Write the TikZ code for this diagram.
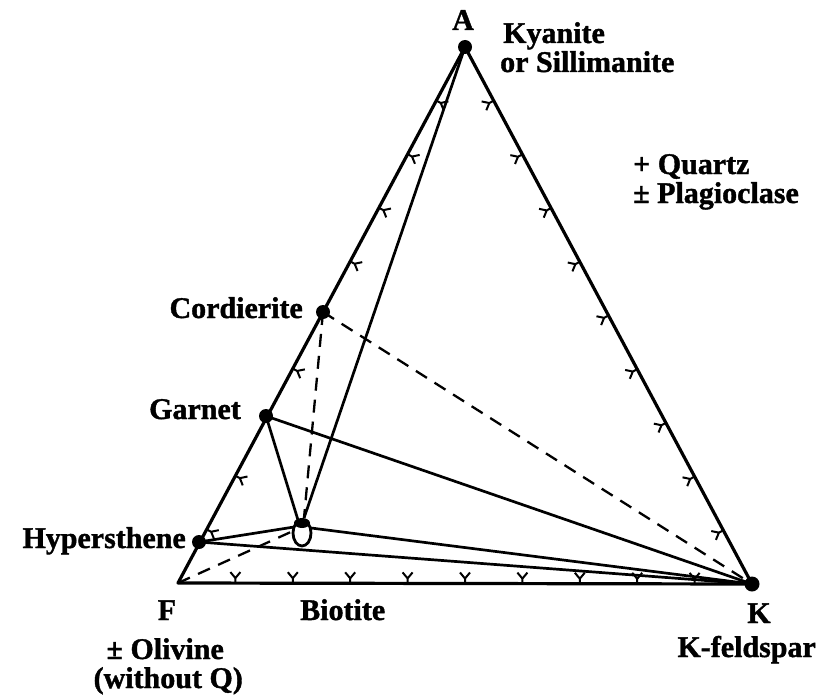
\documentclass[tikz,border=0pt]{standalone}
\usepackage{fontspec}
\setmainfont{Liberation Serif}[FakeBold=1.3]
\usetikzlibrary{calc}
\begin{document}
\begin{tikzpicture}[x=1pt,y=-1pt,
  edge/.style={line width=3.2pt,line join=round},
  tie/.style={line width=2.7pt},
  dtie/.style={line width=2.3pt,dash pattern=on 13pt off 9pt},
  dot/.style={circle,fill=black,inner sep=0pt,minimum size=14pt},
  lab/.style={font=\fontsize{30}{34}\selectfont\bfseries,inner sep=0pt},
  tk/.style={line width=2pt}]
\useasboundingbox (0,0) rectangle (829,698);
% corners and phases
\coordinate (F) at (178,583);
\node[dot] (A) at (465,47) {};
\node[dot,minimum size=15pt] (K) at (752,584) {};
\node[dot] (C) at (323,312) {};
\node[dot] (G) at (266,416) {};
\node[dot] (H) at (199,542) {};
\coordinate (Bt) at (302,533);
% triangle
\draw[edge] (A.center) -- (F) -- (K.center) -- cycle;
% ticks
\foreach \k in {1,...,9}{
  \draw[tk,shift={($(F)!\k/10!(K.center)$)},rotate=90] (0,0) -- (5,0) -- (11,5) (5,0) -- (11,-5);
  \draw[tk,shift={($(A.center)!\k/10!(K.center)$)},rotate=208] (0,0) -- (5,0) -- (11,5) (5,0) -- (11,-5);
}
\foreach \k in {1,2,4,6,7,8,9}{
  \draw[tk,shift={($(F)!\k/10!(A.center)$)},rotate=-28] (0,0) -- (5,0) -- (11,5) (5,0) -- (11,-5);
}
% biotite loop
\draw[line width=2.8pt] (Bt) ellipse [x radius=9, y radius=13];
\fill (302,523) ellipse [x radius=8, y radius=5];
\coordinate (BtT) at (304,518);
\coordinate (BtL) at (294,527);
\coordinate (BtR) at (311,528);
\coordinate (BtG) at (298,520);
\coordinate (BtF) at (293,531);
% tie lines
\draw[tie] (A.center) -- (BtT);
\draw[tie] (G.center) -- (BtG);
\draw[tie] (G.center) -- (K.center);
\draw[tie] (H.center) -- (BtL);
\draw[tie] (BtR) -- (K.center);
\draw[tie] (H.center) -- (K.center);
\draw[dtie] (C.center) -- (K.center);
\draw[dtie] (C.center) -- (BtT);
\draw[dtie] (F) -- (BtF);
% labels
\node[lab,anchor=base] (lA) at (463,30) {A};
\node[lab,anchor=base west] (lKy) at (503,43) {Kyanite};
\node[lab,anchor=base west] (lSi) at (500,72) {or Sillimanite};
\node[lab,anchor=base west] (lQz) at (633,174) {+\ Quartz};
\node[lab,anchor=base west] (lPl) at (633,203) {\char"00B1\ Plagioclase};
\node[lab,anchor=base east] (lC) at (303,318) {Cordierite};
\node[lab,anchor=base east] (lG) at (241,419) {Garnet};
\node[lab,anchor=base east] (lH) at (186,548) {Hypersthene};
\node[lab,anchor=base] (lF) at (167,620) {F};
\node[lab,anchor=base west] (lB) at (300,620) {Biotite};
\node[lab,anchor=base east] (lO) at (224,659) {\char"00B1\ Olivine};
\node[lab,anchor=base east] (lW) at (243,688) {(without Q)};
\node[lab,anchor=base] (lK) at (759,623) {K};
\node[lab,anchor=base east] (lKf) at (816,657) {K-feldspar};
\end{tikzpicture}
\end{document}
